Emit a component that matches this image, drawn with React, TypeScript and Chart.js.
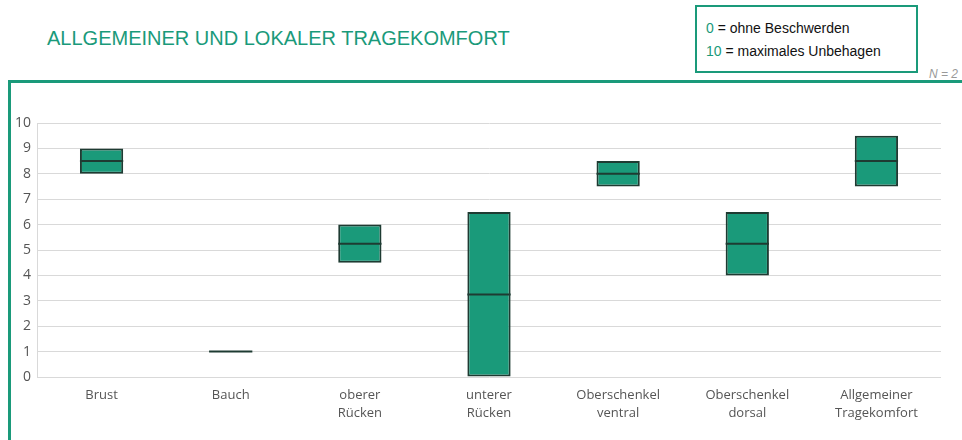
import React, { useEffect, useRef } from "react";
import { Chart, registerables } from "chart.js";

Chart.register(...registerables);

const categories: (string | string[])[] = [
  "Brust",
  "Bauch",
  ["oberer", "Rücken"],
  ["unterer", "Rücken"],
  ["Oberschenkel", "ventral"],
  ["Oberschenkel", "dorsal"],
  ["Allgemeiner", "Tragekomfort"],
];
const lowValues = [8, 1, 4.5, 0, 7.5, 4, 7.5];
const highValues = [9, 1, 6, 6.5, 8.5, 6.5, 9.5];
const medianValues = [8.5, 1, 5.25, 3.25, 8, 5.25, 8.5];
const yTicks = [0, 1, 2, 3, 4, 5, 6, 7, 8, 9, 10];

const GREEN = "#1a9a7a";
const EDGE = "#1e3b32";

const medianPlugin = {
  id: "medianLines",
  afterDatasetsDraw(chart: any) {
    const meta = chart.getDatasetMeta(0);
    const y = chart.scales.y;
    const ctx = chart.ctx;
    ctx.save();
    ctx.strokeStyle = EDGE;
    ctx.lineWidth = 2;
    meta.data.forEach((bar: any, i: number) => {
      const py = y.getPixelForValue(medianValues[i]);
      const half = bar.width / 2;
      ctx.beginPath();
      ctx.moveTo(bar.x - half, py);
      ctx.lineTo(bar.x + half, py);
      ctx.stroke();
    });
    ctx.restore();
  },
};

export default function App() {
  const ref = useRef<HTMLCanvasElement>(null);
  useEffect(() => {
    if (!ref.current) return;
    const chart = new Chart(ref.current, {
      type: "bar",
      data: {
        labels: categories as any,
        datasets: [
          {
            data: lowValues.map((v, i) => [v, highValues[i]]) as any,
            backgroundColor: GREEN,
            borderColor: EDGE,
            borderWidth: 2,
            borderSkipped: false,
            barPercentage: 0.335,
            categoryPercentage: 1,
          },
        ],
      },
      options: {
        animation: false,
        responsive: false,
        maintainAspectRatio: false,
        layout: { padding: { left: 10, top: 123, right: 21, bottom: 8 } },
        plugins: { legend: { display: false }, tooltip: { enabled: false } },
        scales: {
          x: {
            grid: { display: false },
            border: { display: false },
            ticks: {
              color: "#555",
              font: { family: "Open Sans", size: 13, lineHeight: 1.4 },
              padding: 1,
              maxRotation: 0,
              autoSkip: false,
            },
            afterFit: (s: any) => {
              s.height = 55;
            },
          },
          y: {
            min: 0,
            max: 10,
            afterBuildTicks: (s: any) => {
              s.ticks = yTicks.map((v) => ({ value: v }));
            },
            grid: { color: "#d9d9d9", drawTicks: false, lineWidth: 1 },
            border: { color: "#d9d9d9" },
            ticks: {
              color: "#555",
              font: { family: "Open Sans", size: 14 },
              padding: 6,
            },
            afterFit: (s: any) => {
              s.width = 27;
            },
          },
        },
      },
      plugins: [medianPlugin],
    });
    return () => chart.destroy();
  }, []);

  return (
    <div style={{ position: "fixed", left: 0, top: 0, width: 962, height: 440, overflow: "hidden", background: "#fff" }}>
      <div
        style={{
          position: "absolute",
          left: 47,
          top: 26,
          fontFamily: "Liberation Sans, Arial, sans-serif",
          fontSize: 20,
          color: GREEN,
          whiteSpace: "nowrap",
          lineHeight: "24px",
        }}
      >
        ALLGEMEINER UND LOKALER TRAGEKOMFORT
      </div>
      <div
        style={{
          position: "absolute",
          left: 695,
          top: 5,
          width: 223,
          height: 68,
          border: `2px solid ${GREEN}`,
          fontFamily: "Liberation Sans, Arial, sans-serif",
          fontSize: 14,
          color: "#111",
          lineHeight: "23px",
          paddingLeft: 9,
          paddingTop: 10,
          boxSizing: "border-box",
        }}
      >
        <div>
          <span style={{ color: GREEN }}>0</span> = ohne Beschwerden
        </div>
        <div>
          <span style={{ color: GREEN }}>10</span> = maximales Unbehagen
        </div>
      </div>
      <div
        style={{
          position: "absolute",
          left: 929,
          top: 67,
          fontFamily: "Liberation Sans, Arial, sans-serif",
          fontSize: 12,
          fontStyle: "italic",
          color: "#999",
          whiteSpace: "nowrap",
        }}
      >
        N = 2
      </div>
      <div
        style={{
          position: "absolute",
          left: 8,
          top: 80,
          width: 1000,
          height: 400,
          borderLeft: `3px solid ${GREEN}`,
          borderTop: `3px solid ${GREEN}`,
          boxSizing: "border-box",
        }}
      />
      <canvas ref={ref} width={962} height={440} style={{ position: "absolute", left: 0, top: 0 }} />
    </div>
  );
}
